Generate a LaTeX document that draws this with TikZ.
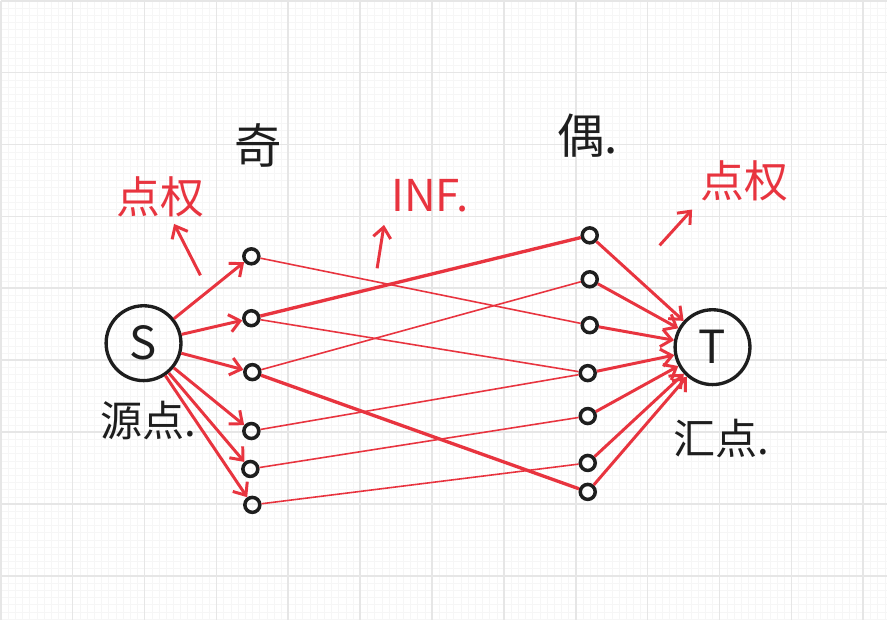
\documentclass[tikz,border=0pt]{standalone}
\usepackage{fontspec}
\newfontfamily\cjk{Noto Sans CJK SC}
\usetikzlibrary{arrows.meta}
\definecolor{ink}{HTML}{1E1E1E}
\definecolor{pen}{HTML}{E8343F}
\definecolor{paper}{HTML}{E6E6E6}
\tikzset{>={Straight Barb[length=6pt,width=10pt]}}
\tikzset{vertex/.style = {shape=circle,draw=ink,line width=2pt,inner sep=0pt,minimum size=0.3cm}}
\tikzset{terminal/.style = {shape=circle,draw=ink,line width=1.9pt,inner sep=0pt,minimum size=1.5cm,text=ink,font=\cjk\fontsize{26}{26}\selectfont}}
\tikzset{edge/.style = {->,draw=pen,line width=1.7pt}}
\tikzset{flow/.style = {draw=pen,line width=0.9pt}}
\tikzset{flowmain/.style = {draw=pen,line width=1.9pt}}
\tikzset{title/.style = {text=ink,font=\cjk\fontsize{27}{27}\selectfont}}
\tikzset{caption/.style = {text=ink,font=\cjk\fontsize{24}{24}\selectfont}}
\tikzset{note/.style = {text=pen,font=\cjk\fontsize{25}{25}\selectfont}}

\begin{document}
\begin{tikzpicture}[x=0.02cm,y=-0.02cm]
            % Paper
            \fill[white] (0,0) rectangle (888,620);
            \foreach \x in {0,7.2,...,888} \draw[paper!35,line width=0.2pt] (\x,0) -- (\x,620);
            \foreach \y in {0,7.2,...,620} \draw[paper!35,line width=0.2pt] (0,\y) -- (888,\y);
            \foreach \x in {0,72,...,864} \draw[paper,line width=0.9pt] (\x,0) -- (\x,620);
            \foreach \y in {0,72,...,576} \draw[paper,line width=0.9pt] (0,\y) -- (888,\y);
            \useasboundingbox (0,0) rectangle (888,620);

            % Vertices
            \node[terminal] (s) at (143,343) {S};
            \node[terminal] (t) at (713,347) {T};

            \node[vertex] (l1) at (251,256) {};
            \node[vertex] (l2) at (251,318) {};
            \node[vertex] (l3) at (252,372) {};
            \node[vertex] (l4) at (251,431) {};
            \node[vertex] (l5) at (250,469) {};
            \node[vertex] (l6) at (252,505) {};

            \node[vertex] (r1) at (590,235) {};
            \node[vertex] (r2) at (590,279) {};
            \node[vertex] (r3) at (590,325) {};
            \node[vertex] (r4) at (588,373) {};
            \node[vertex] (r5) at (588,416) {};
            \node[vertex] (r6) at (588,463) {};
            \node[vertex] (r7) at (588,492) {};

            % Labels
            \node[title] (odd) at (258,145) {奇};
            \node[title] (even) at (588,135) {偶.};
            \node[caption] (src) at (148,420) {源点.};
            \node[caption] (snk) at (722,438) {汇点.};
            \node[note] (wl) at (160,197) {点权};
            \node[note] (inf) at (430,195) {INF.};
            \node[note] (wr) at (745,180) {点权};

            \coordinate (pl) at (200,275);
            \coordinate (pm) at (377,268);
            \coordinate (pr) at (660,245);

            % Edges
            % s
            \foreach \v in {l1,l2,l3,l4,l5,l6}
                \draw[edge] (s) to (\v);

            % odd to even
            \draw[flow] (l1) to (r3);
            \draw[flowmain] (l2) to (r1);
            \draw[flow] (l2) to (r4);
            \draw[flow] (l3) to (r2);
            \draw[flowmain] (l3) to (r7);
            \draw[flow] (l4) to (r4);
            \draw[flow] (l5) to (r5);
            \draw[flow] (l6) to (r6);

            % t
            \foreach \v in {r1,r2,r3,r4,r5,r6,r7}
                \draw[edge] (\v) to (t);

            % notes
            \draw[edge] (pl) to (wl);
            \draw[edge,shorten >=4pt] (pm) to (inf.south west);
            \draw[edge,shorten >=2pt] (pr) to (wr.south west);

        \end{tikzpicture}
\end{document}
